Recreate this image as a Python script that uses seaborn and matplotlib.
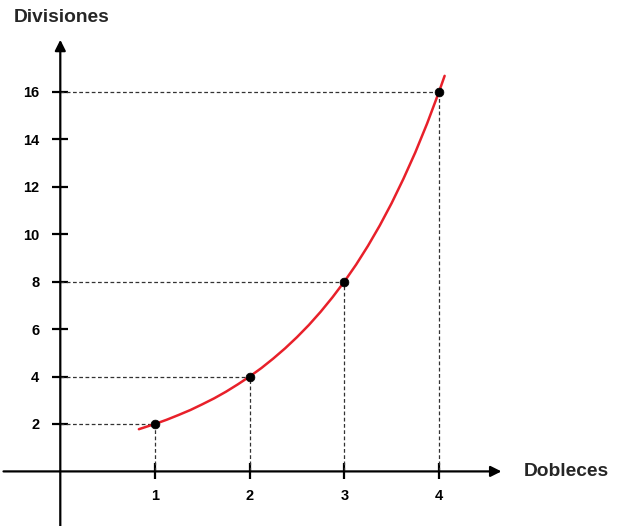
import numpy as np
import pandas as pd
import seaborn as sns
import matplotlib.pyplot as plt

# datos: dobleces de papel vs divisiones
dobleces = [1, 2, 3, 4]
divisiones = [2, 4, 8, 16]

# curva
curva_x = [0.83, 1.0, 1.125, 1.25, 1.375, 1.5, 1.625, 1.75, 1.875, 2.0, 2.125, 2.25, 2.375, 2.5,
           2.625, 2.75, 2.875, 3.0, 3.125, 3.25, 3.375, 3.5, 3.625, 3.75, 3.875, 4.0, 4.06]
curva_y = [1.78, 2.0, 2.18, 2.38, 2.59, 2.83, 3.08, 3.36, 3.67, 4.0, 4.36, 4.76, 5.19, 5.66,
           6.17, 6.73, 7.34, 8.0, 8.72, 9.51, 10.37, 11.31, 12.34, 13.45, 14.67, 16.0, 16.68]

xticks = [1, 2, 3, 4]
yticks = [2, 4, 6, 8, 10, 12, 14, 16]

sns.set_style('white')
plt.rcParams['font.family'] = ['Liberation Sans', 'DejaVu Sans']

fig = plt.figure(figsize=(6.19, 5.26), dpi=100)
ax = fig.add_axes([0, 0, 1, 1])
ax.set_xlim(-0.637, 5.902)
ax.set_ylim(-2.302, 19.878)

# lineas guia punteadas
for x, y in zip(dobleces, divisiones):
    ax.plot([0, x], [y, y], color='#333333', lw=0.9, dashes=(3, 2), zorder=1)
    ax.plot([x, x], [0, y], color='#333333', lw=0.9, dashes=(3, 2), zorder=1)

# ejes con flechas
ax.annotate('', xy=(4.66, 0), xytext=(-0.6, 0),
            arrowprops=dict(arrowstyle='-|>', lw=1.6, color='black', mutation_scale=16, shrinkA=0, shrinkB=0))
ax.annotate('', xy=(0, 18.2), xytext=(0, -2.4),
            arrowprops=dict(arrowstyle='-|>', lw=1.6, color='black', mutation_scale=16, shrinkA=0, shrinkB=0))

df_curva = pd.DataFrame({'x': curva_x, 'y': curva_y})
sns.lineplot(data=df_curva, x='x', y='y', color='#e8202a', lw=1.8, ax=ax, zorder=3)

df = pd.DataFrame({'Dobleces': dobleces, 'Divisiones': divisiones})
sns.scatterplot(data=df, x='Dobleces', y='Divisiones', color='black', s=40, edgecolor='black', ax=ax, zorder=4)

for s in ax.spines.values():
    s.set_visible(False)
ax.spines['left'].set_position(('data', 0))
ax.spines['bottom'].set_position(('data', 0))
ax.set_xticks(xticks)
ax.set_yticks(yticks)
ax.tick_params(axis='both', bottom=True, left=True, direction='inout', length=12, width=1.6,
               colors='black', labelsize=10.5)
ax.tick_params(axis='y', pad=9)
ax.tick_params(axis='x', pad=7)
for lab in ax.get_xticklabels() + ax.get_yticklabels():
    lab.set_fontweight('bold')
ax.set_xlabel('')
ax.set_ylabel('')

fig.text(14 / 619, 1 - 17 / 526, 'Divisiones', fontsize=13.8, fontweight='bold',
         ha='left', va='center')
fig.text(524 / 619, 1 - 471 / 526, 'Dobleces', fontsize=13.8, fontweight='bold',
         ha='left', va='center')

fig.savefig('out.png', dpi=100)
